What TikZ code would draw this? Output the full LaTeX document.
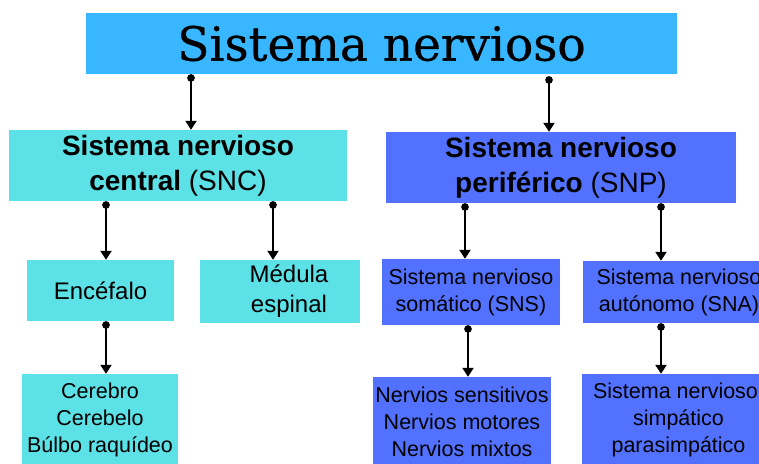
\documentclass[tikz,border=0pt]{standalone}
\usepackage{fontspec}
\setmainfont{Liberation Sans}
\newfontfamily\titlefont[FakeBold=0.6]{DejaVu Serif}
\usetikzlibrary{arrows.meta}
\definecolor{nvsky}{RGB}{56,182,255}
\definecolor{nvturq}{RGB}{92,225,230}
\definecolor{nvblue}{RGB}{82,113,255}

\begin{document}
\begin{tikzpicture}[x=1pt,y=-1pt,
  box/.style={inner sep=0pt,align=center,text=black},
  cbox/.style={box,fill=nvturq},
  pbox/.style={box,fill=nvblue},
  big/.style={font=\fontsize{28}{35}\selectfont},
  mid/.style={font=\fontsize{24}{30}\selectfont},
  small/.style={font=\fontsize{21.5}{27}\selectfont},
  link/.style={line width=2.2pt,{Circle[length=7.5pt]}-{Triangle[length=9pt,width=11pt]}}]
  \useasboundingbox (0,0) rectangle (759,463);
  \node[box,fill=nvsky,minimum width=591pt,minimum height=61pt] (top) at (381.5,43.5)
    {\titlefont\fontsize{47}{50}\selectfont\raisebox{-2pt}{Sistema nervioso}};
  \node[cbox,big,minimum width=338pt,minimum height=71pt] (snc) at (178,165.5)
    {\textbf{Sistema nervioso}\\\textbf{central} (SNC)};
  \node[pbox,big,minimum width=350pt,minimum height=71pt] (snp) at (561,167.5)
    {\textbf{Sistema nervioso}\\\textbf{periférico} (SNP)};
  \node[cbox,mid,minimum width=147pt,minimum height=61pt] (enc) at (100.5,290.5) {Encéfalo};
  \node[cbox,mid,minimum width=160pt,minimum height=63pt] (med) at (280,291.5)
    {\hspace*{18pt}Médula\\\hspace*{18pt}espinal};
  \node[pbox,small,minimum width=178pt,minimum height=66pt] (sns) at (471,292)
    {Sistema nervioso\\somático (SNS)};
  \node[pbox,small,minimum width=192pt,minimum height=62pt] (sna) at (679,292)
    {Sistema nervioso\\autónomo (SNA)};
  \node[cbox,small,minimum width=156pt,minimum height=92pt] (cer) at (100,420)
    {Cerebro\\Cerebelo\\Búlbo raquídeo};
  \node[pbox,small,minimum width=178pt,minimum height=90pt] (ner) at (462,422)
    {Nervios sensitivos\\Nervios motores\\Nervios mixtos};
  \node[pbox,small,minimum width=193pt,minimum height=92pt] (sim) at (678.5,420)
    {Sistema nervioso:\\simpático\\parasimpático};
  \coordinate (a1) at (191,0);
  \coordinate (a2) at (549,0);
  \coordinate (a3) at (106,0);
  \coordinate (a4) at (273,0);
  \coordinate (a5) at (465,0);
  \coordinate (a6) at (661,0);
  \coordinate (a7) at (468,0);
  \draw[link] (top.south -| a1) -- (snc.north -| a1);
  \draw[link] ([yshift=-2pt]top.south -| a2) -- (snp.north -| a2);
  \draw[link] (snc.south -| a3) -- (enc.north -| a3);
  \draw[link] (snc.south -| a4) -- (med.north -| a4);
  \draw[link] (snp.south -| a5) -- (sns.north -| a5);
  \draw[link] (snp.south -| a6) -- (sna.north -| a6);
  \draw[link] (enc.south -| a3) -- (cer.north -| a3);
  \draw[link] (sns.south -| a7) -- (ner.north -| a7);
  \draw[link] (sna.south -| a6) -- (sim.north -| a6);
\end{tikzpicture}
\end{document}
